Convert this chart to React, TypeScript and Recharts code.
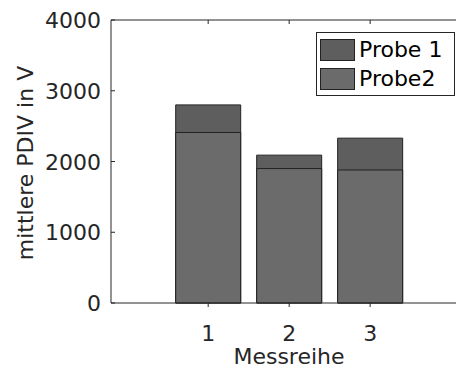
import { ComposedChart, Bar, XAxis, YAxis, ReferenceLine } from 'recharts';

// Messreihen und Mittelwerte der PDIV (in V)
const messreihen = [1, 2, 3];
const probe1 = [2800, 2090, 2330];
const probe2 = [2410, 1900, 1880];
const yTicks = [0, 1000, 2000, 3000, 4000];

const data = messreihen.map((m, i) => ({ m, probe1: probe1[i], probe2: probe2[i] }));

const FONT = '"DejaVu Sans", sans-serif';
const INK = '#262626';
const X_DOMAIN: [number, number] = [-0.2, 4.06];

function YTick({ x, y, payload }: any) {
  return (
    <g>
      <line x1={x + 8} x2={x + 12} y1={y} y2={y} stroke={INK} strokeWidth={1} />
      <text x={x - 2} y={y} dy={8} textAnchor="end" fontSize={22} fill={INK} fontFamily={FONT}>
        {payload.value}
      </text>
    </g>
  );
}

function XTick({ x, y, payload }: any) {
  return (
    <g>
      <line x1={x} x2={x} y1={y - 4} y2={y - 8} stroke={INK} strokeWidth={1} />
      <line x1={x} x2={x} y1={20} y2={24} stroke={INK} strokeWidth={1} />
      <text x={x} y={y} dy={30} textAnchor="middle" fontSize={22} fill={INK} fontFamily={FONT}>
        {payload.value}
      </text>
    </g>
  );
}

function LegendBox() {
  const item = (label: string, color: string) => (
    <div style={{ display: 'flex', alignItems: 'center', height: 29 }}>
      <div style={{ width: 35, height: 22, background: color, border: '1px solid #222', marginRight: 4, boxSizing: 'border-box' }} />
      <span style={{ fontSize: 22, color: '#000', fontFamily: FONT }}>{label}</span>
    </div>
  );
  return (
    <div style={{ position: 'absolute', left: 316, top: 32, background: '#fff', border: '1px solid #262626', padding: '2px 2px 2px 3px', width: 139, boxSizing: 'border-box' }}>
      {item('Probe 1', '#5e5e5e')}
      {item('Probe2', '#6b6b6b')}
    </div>
  );
}

export default function App() {
  return (
    <div style={{ position: 'fixed', left: 0, top: 0, width: 456, height: 369, overflow: 'hidden', background: '#fff' }}>
      <ComposedChart width={456} height={369} data={data} margin={{ top: 20, right: 0, bottom: 0, left: 0 }} barGap={0}>
        <XAxis xAxisId="a" type="number" dataKey="m" domain={X_DOMAIN} ticks={messreihen} tick={<XTick />} tickLine={false} axisLine={{ stroke: INK }} height={66} allowDataOverflow />
        <XAxis xAxisId="b" type="number" dataKey="m" domain={X_DOMAIN} hide allowDataOverflow />
        <YAxis domain={[0, 4000]} ticks={yTicks} tick={<YTick />} tickLine={false} axisLine={{ stroke: INK }} width={111} />
        <ReferenceLine xAxisId="a" y={4000} stroke={INK} />
        <Bar xAxisId="a" dataKey="probe1" name="Probe 1" fill="#5e5e5e" stroke="#222" strokeWidth={1} barSize={65} isAnimationActive={false} />
        <Bar xAxisId="b" dataKey="probe2" name="Probe2" fill="#6b6b6b" stroke="#222" strokeWidth={1} barSize={65} isAnimationActive={false} />
      </ComposedChart>
      <div style={{ position: 'absolute', left: 0, top: 0, width: 456, height: 369, pointerEvents: 'none' }}>
        <svg width={456} height={369}>
          <text x={289} y={364} textAnchor="middle" fontSize={22} fill={INK} fontFamily={FONT}>Messreihe</text>
          <text transform="translate(33,163) rotate(-90)" textAnchor="middle" fontSize={22} fill={INK} fontFamily={FONT}>mittlere PDIV in V</text>
        </svg>
        <LegendBox />
      </div>
    </div>
  );
}
